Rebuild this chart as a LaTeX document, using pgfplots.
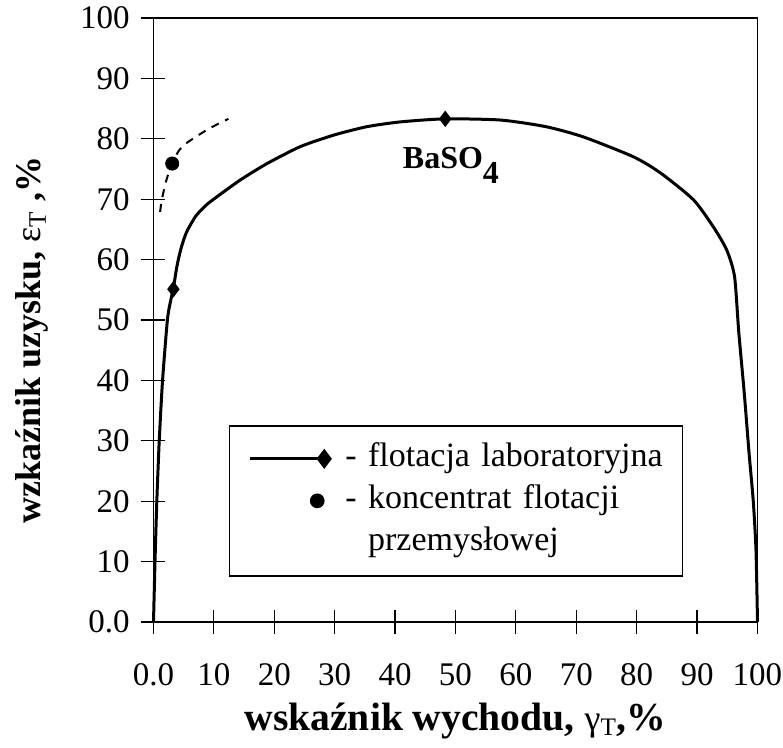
\documentclass[border=0pt]{standalone}
\usepackage{fontspec}
\setmainfont{Liberation Serif}
\usepackage{pgfplots}
\pgfplotsset{compat=1.18}

% laboratory flotation curve (yield gamma_T, recovery epsilon_T)
\pgfplotstableread{
x y
0 0
0.25 10
0.55 20
0.95 30
1.5 40
2.3 50
2.8 53
3.3 55.3
3.9 59
4.6 62
5.5 64.6
7.0 67.2
8.7 69
10.5 70.4
14.4 73.2
18.8 75.9
24.3 78.7
29.8 80.6
35.3 82.0
40.9 82.8
48.3 83.3
57.5 83.1
65 82.0
71.2 80.3
79.5 77.0
84 74.3
89.4 69.9
92.7 65.4
94.9 61.6
96.2 57.2
96.9 48
97.8 38
98.6 28
99.3 20
99.75 11.9
100 0
}\lab

\pgfplotstableread{
x y
1.1 67.9
1.4 70
2.15 73.2
3.1 75.9
4.75 78.7
8.9 81.5
12.4 83.3
}\ind

\begin{document}
\begin{tikzpicture}
\begin{axis}[
  name=ax,
  scale only axis, width=302pt, height=302pt,
  xmin=0, xmax=100, ymin=0, ymax=100,
  clip=false,
  axis line style={line width=0.75pt},
  xtick={0,10,...,100}, ytick={0,10,...,100},
  xticklabels={0.0,10,20,30,40,50,60,70,80,90,100},
  yticklabels={0.0,10,20,30,40,50,60,70,80,90,100},
  tick pos=left,
  tick align=center, major tick length=12pt,
  tick style={line width=0.6pt, black},
  ticklabel style={font=\fontsize{16.5}{19}\selectfont, inner sep=0pt},
  xticklabel style={anchor=base, yshift=-26pt},
  yticklabel style={anchor=east, xshift=-5.75pt},
  xlabel={wskaźnik wychodu, {\mdseries\fontsize{18}{21}\selectfont γ\textsubscript{T}},\%},
  ylabel={wzkaźnik uzysku, {\mdseries ε\textsubscript{T}} ,\%},
  xlabel style={font=\fontsize{19.8}{23}\selectfont\bfseries,
    at={(axis description cs:0.5,-0.179)}, anchor=base},
  ylabel style={font=\fontsize{18}{21}\selectfont\bfseries,
    at={(axis description cs:-0.201,0.467)}, anchor=center},
  legend cell align=left,
  legend style={at={(axis description cs:0.125,0.326)}, anchor=north west,
    draw=black, line width=0.75pt, inner xsep=9.5pt, inner ysep=6pt,
    row sep=0pt, font=\fontsize{17}{21}\selectfont,
    nodes={inner xsep=0pt, inner ysep=2.5pt, text height=12pt, text depth=4pt,
      text width=159pt, align=left},
    /tikz/every odd column/.append style={column sep=7pt}},
]
\addplot[black, line width=1.5pt, smooth, tension=0.4,
  legend image code/.code={
    \draw[black, line width=1.5pt] (0pt,0pt) -- (37pt,0pt);
    \fill[black] (37pt,3.8pt) -- (39.85pt,0pt) -- (37pt,-3.8pt) -- (34.15pt,0pt) -- cycle;}]
  table[x=x, y=y] {\lab};
\addlegendentry{- flotacja laboratoryjna}

\addplot[black, only marks, mark=*, mark size=3.3pt,
  legend image code/.code={
    \path[draw=none] (0pt,0pt) -- (39.85pt,0pt);
    \fill[black] (33.5pt,0pt) circle (3.3pt);}]
  coordinates {(3.1,75.9)};
\addlegendentry{- koncentrat flotacji}

\addlegendimage{empty legend}
\addlegendentry{\hphantom{- }przemysłowej}

\addplot[black, line width=1pt, dash pattern=on 4pt off 3.5pt, smooth, forget plot]
  table[x=x, y=y] {\ind};

\addplot[black, only marks, mark=diamond*, mark size=3.8pt, forget plot]
  coordinates {(3.3,55.1) (48.3,83.3)};

\node[font=\fontsize{16}{19}\selectfont\bfseries, anchor=base] at (axis cs:49.25,75.0) {BaSO\raisebox{-7.5pt}{4}};
\end{axis}
\path ([xshift=-76.75pt,yshift=-63pt]ax.south west) rectangle ([xshift=12.75pt,yshift=9pt]ax.north east);
\end{tikzpicture}
\end{document}
